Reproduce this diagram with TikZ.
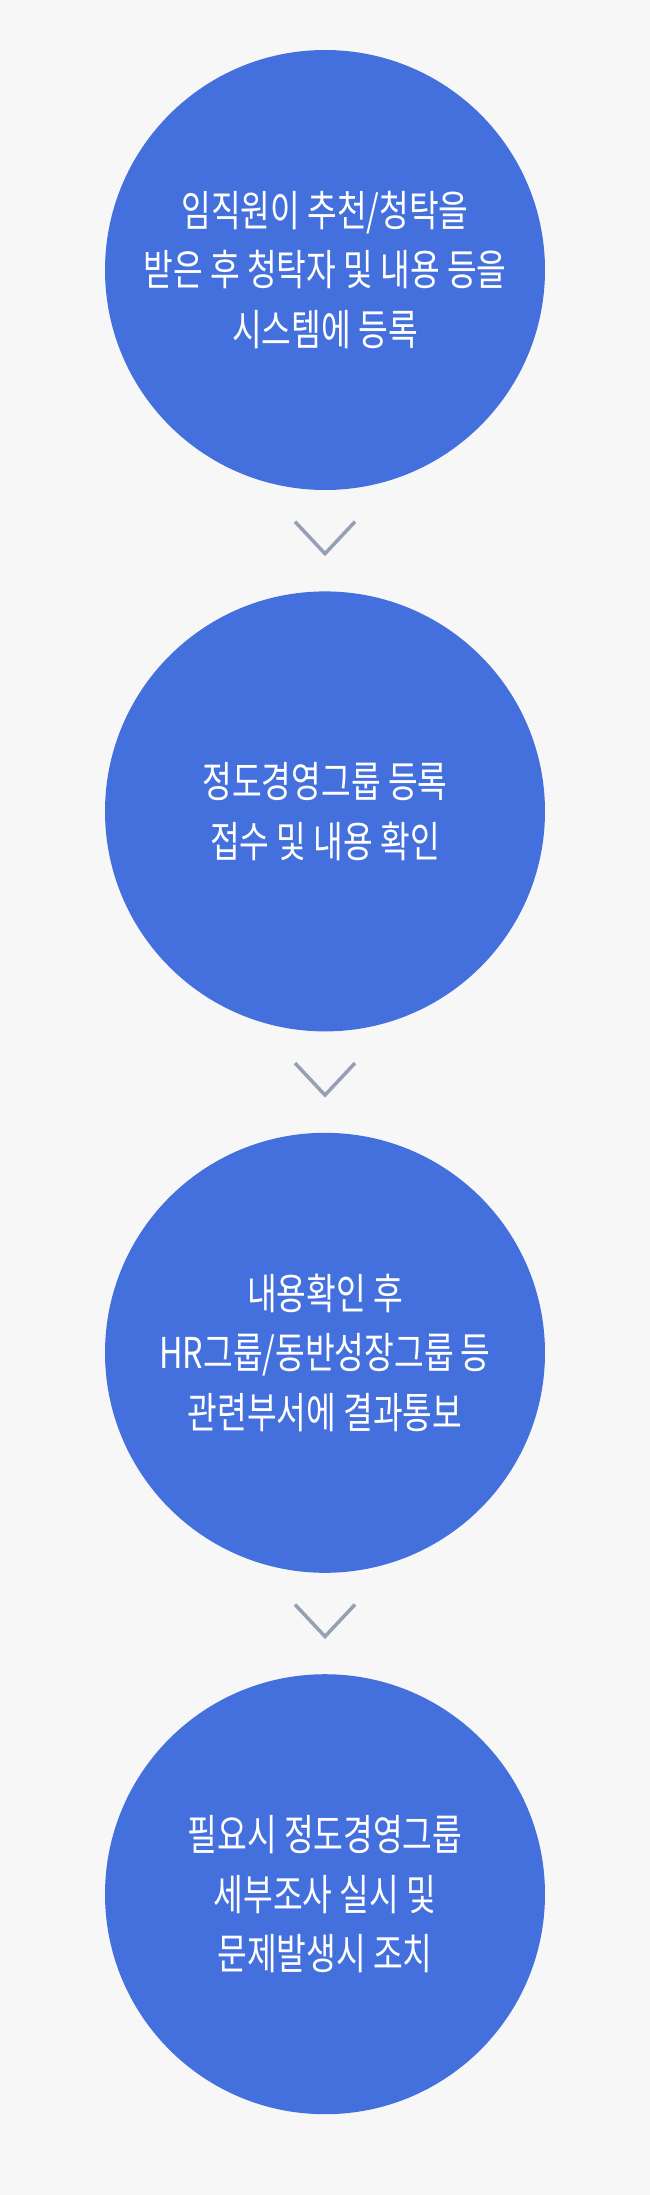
\documentclass[tikz,border=0pt]{standalone}
\usepackage{fontspec}
\newfontfamily\krfont[FakeStretch=0.76]{Noto Sans CJK KR}
\usetikzlibrary{positioning,calc}
\definecolor{bgcol}{HTML}{F7F7F7}
\definecolor{stepblue}{HTML}{4470DE}
\definecolor{chevcol}{HTML}{95A0B4}

\begin{document}
\begin{tikzpicture}[x=1pt,y=-1pt,
  stepcircle/.style={circle,fill=stepblue,minimum size=440pt,inner sep=0pt,
    text=white,align=center,font=\krfont\fontsize{42.5}{59.5}\selectfont},
  chev/.style={draw=chevcol,line width=3.5pt}]
\fill[bgcol] (0,0) rectangle (650,2195);
\node[stepcircle] (c1) at (325,270) {임직원이 추천/청탁을\\받은 후 청탁자 및 내용 등을\\시스템에 등록};
\node[stepcircle,below=101pt of c1] (c2) {정도경영그룹 등록\\접수 및 내용 확인};
\node[stepcircle,below=101pt of c2] (c3) {내용확인 후\\HR그룹/동반성장그룹 등\\관련부서에 결과통보};
\node[stepcircle,below=101pt of c3] (c4) {필요시 정도경영그룹\\세부조사 실시 및\\문제발생시 조치};
\coordinate (a1) at ($(c1.south)!0.47!(c2.north)$);
\coordinate (a2) at ($(c2.south)!0.47!(c3.north)$);
\coordinate (a3) at ($(c3.south)!0.47!(c4.north)$);
\foreach \a in {a1,a2,a3}
  \draw[chev] (\a) ++(-30,-16) -- ++(30,32) -- ++(30,-32);
\end{tikzpicture}
\end{document}
